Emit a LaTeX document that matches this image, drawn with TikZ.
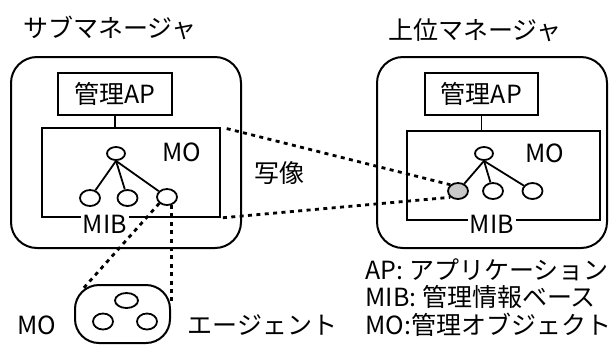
\documentclass[tikz,border=0pt]{standalone}
\usepackage{fontspec}
\setmainfont{Noto Sans CJK JP}
\usepackage{tikz}
\usetikzlibrary{shapes.geometric, calc}
\definecolor{shade}{RGB}{200, 200, 200}

\begin{document}
\begin{tikzpicture}[x=0.5pt, y=-0.5pt, line width=0.9pt,
    font=\fontsize{12.5}{15}\selectfont,
    mgr/.style={draw, line width=1pt, rounded corners=13pt, minimum width=115pt, minimum height=95.5pt, inner sep=0pt},
    apbox/.style={draw, minimum width=57pt, minimum height=21pt, inner sep=0pt},
    mibbox/.style={draw, minimum height=44.5pt, inner sep=0pt},
    obj/.style={draw, ellipse, minimum width=10pt, minimum height=8pt, inner sep=0pt},
    lbl/.style={font=\fontsize{12.5}{14}\selectfont, inner sep=1pt},
    link/.style={line width=1.4pt, dash pattern=on 2pt off 2.2pt}]
  \useasboundingbox (0,0) rectangle (610,345);

  \node (subt) at (110, 28) {サブマネージャ};
  \node (upt) at (475, 30) {上位マネージャ};

  % sub manager
  \node[mgr] (lmgr) at (126, 152.5) {};
  \node[apbox] (lap) at (115, 94) {管理AP};
  \node[mibbox, minimum width=89pt] (lmib) at (131, 172.5) {};
  \draw (lap.south) -- (lap.south |- lmib.north);
  \node[obj, minimum width=9pt, minimum height=6.5pt] (lroot) at (116, 153.5) {};
  \node[obj] (lc1) at (90, 198) {};
  \node[obj] (lc2) at (127.5, 198) {};
  \node[obj] (lc3) at (167, 197) {};
  \foreach \c in {lc1, lc2, lc3}
    \draw (lroot.south) -- (\c);
  \node[lbl] (lmo) at (182, 152) {MO};
  \node[lbl, fill=white] (lmiblbl) at (105, 224) {MIB};

  % upper manager
  \node[mgr] (rmgr) at (492, 152.5) {};
  \node[apbox, minimum width=56.5pt] (rap) at (481.5, 94) {管理AP};
  \node[mibbox, minimum width=96.5pt] (rmib) at (503.5, 175.5) {};
  \draw (rap.south) -- (rap.south |- rmib.north);
  \node[obj, minimum width=9pt, minimum height=6.5pt] (rroot) at (484, 153.5) {};
  \node[obj, fill=shade] (rc1) at (458, 191) {};
  \node[obj] (rc2) at (493, 191) {};
  \node[obj] (rc3) at (532.5, 191) {};
  \foreach \c in {rc1, rc2, rc3}
    \draw (rroot.south) -- (\c);
  \node[lbl] (rmo) at (545, 153) {MO};
  \node[lbl, fill=white] (rmiblbl) at (492, 224) {MIB};

  % agent
  \node[draw, line width=1pt, rounded corners=12pt, minimum width=47.5pt, minimum height=29pt, inner sep=0pt] (agent) at (122.5, 314) {};
  \node[obj, minimum width=11.5pt, minimum height=7.5pt] (ac1) at (126.5, 300.5) {};
  \node[obj] (ac2) at (103, 321.5) {};
  \node[obj] (ac3) at (147, 321.5) {};
  \node[lbl] (amo) at (37, 325) {MO};
  \node[anchor=west] (agt) at (180, 325) {エージェント};

  % mapping
  \node (map) at (279, 173) {写像};
  \draw[link, shorten <=3pt] (lmib.north east) -- (rc1.north west);
  \draw[link, shorten <=1pt] (lmib.south east) -- (rc1.south west);
  \draw[link] (lc3.south west) -- ($(agent.north west)+(7,7)$);
  \draw[link] (lc3.-60) -- (lc3.-60 |- agent.10);

  % legend
  \node[anchor=west] (leg1) at (358, 270) {AP: アプリケーション};
  \node[anchor=west] (leg2) at (358, 297) {MIB: 管理情報ベース};
  \node[anchor=west] (leg3) at (358, 325) {MO:管理オブジェクト};
\end{tikzpicture}
\end{document}
